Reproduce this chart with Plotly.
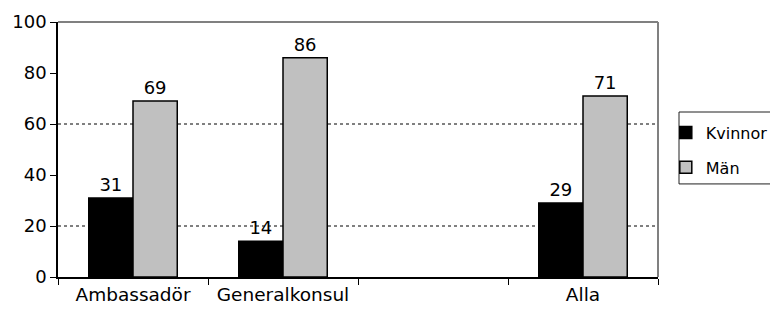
import plotly.graph_objects as go

categories = ["Ambassadör", "Generalkonsul", " ", "Alla"]
kvinnor = [31, 14, None, 29]
man = [69, 86, None, 71]
series_names = ["Kvinnor", "Män"]
y_ticks = [0, 20, 40, 60, 80, 100]
grid_values = [20, 60]

FONT = "DejaVu Sans"

fig = go.Figure()
fig.add_trace(go.Bar(
    x=categories, y=kvinnor, name=series_names[0], legendgroup="a",
    marker=dict(color="#000000", line=dict(color="#000000", width=1.5)),
    text=[str(v) if v is not None else "" for v in kvinnor],
    textposition="outside", cliponaxis=False,
    textfont=dict(family=FONT, size=18, color="#000000"),
))
fig.add_trace(go.Bar(
    x=categories, y=man, name=series_names[1], legendgroup="b",
    marker=dict(color="#C0C0C0", line=dict(color="#000000", width=1.5)),
    text=[str(v) if v is not None else "" for v in man],
    textposition="outside", cliponaxis=False,
    textfont=dict(family=FONT, size=18, color="#000000"),
))

shapes = []
for g in grid_values:
    shapes.append(dict(type="line", xref="paper", yref="y", x0=0, x1=1, y0=g, y1=g,
                       line=dict(color="#000000", width=1, dash="dot"), layer="below"))
shapes.append(dict(type="line", xref="paper", yref="paper", x0=0, x1=1, y0=1, y1=1,
                   line=dict(color="#808080", width=2)))
shapes.append(dict(type="line", xref="paper", yref="paper", x0=1, x1=1, y0=0, y1=1,
                   line=dict(color="#808080", width=2)))
# legend frame
shapes.append(dict(type="rect", xref="paper", yref="paper", x0=1.035, x1=1.3,
                   y0=0.365, y1=0.647, line=dict(color="#202020", width=1),
                   fillcolor="rgba(0,0,0,0)"))

fig.update_layout(
    width=770, height=304,
    margin=dict(l=50, r=120, t=14, b=35, autoexpand=False),
    paper_bgcolor="white", plot_bgcolor="white",
    barmode="group", bargap=0.41, bargroupgap=0,
    font=dict(family=FONT, size=17, color="#000000"),
    shapes=shapes,
    showlegend=True,
    legend=dict(
        x=1.013, y=0.633, xanchor="left", yanchor="top",
        borderwidth=0, bgcolor="rgba(0,0,0,0)",
        font=dict(family=FONT, size=16, color="#000000"),
        tracegroupgap=11, itemwidth=30,
    ),
)
fig.update_xaxes(
    type="category", categoryorder="array", categoryarray=categories,
    showline=True, linecolor="#000000", linewidth=1.5,
    ticks="outside", tickson="boundaries", ticklen=6, tickcolor="#000000", tickwidth=1,
    showgrid=False, tickfont=dict(family=FONT, size=18.5), fixedrange=True,
)
fig.update_yaxes(
    range=[0, 100], tickvals=y_ticks,
    showline=True, linecolor="#000000", linewidth=1.5,
    ticks="outside", ticklen=6, tickcolor="#000000", tickwidth=1,
    showgrid=False, zeroline=False, tickfont=dict(family=FONT, size=18),
)

fig.write_html("out.html")
